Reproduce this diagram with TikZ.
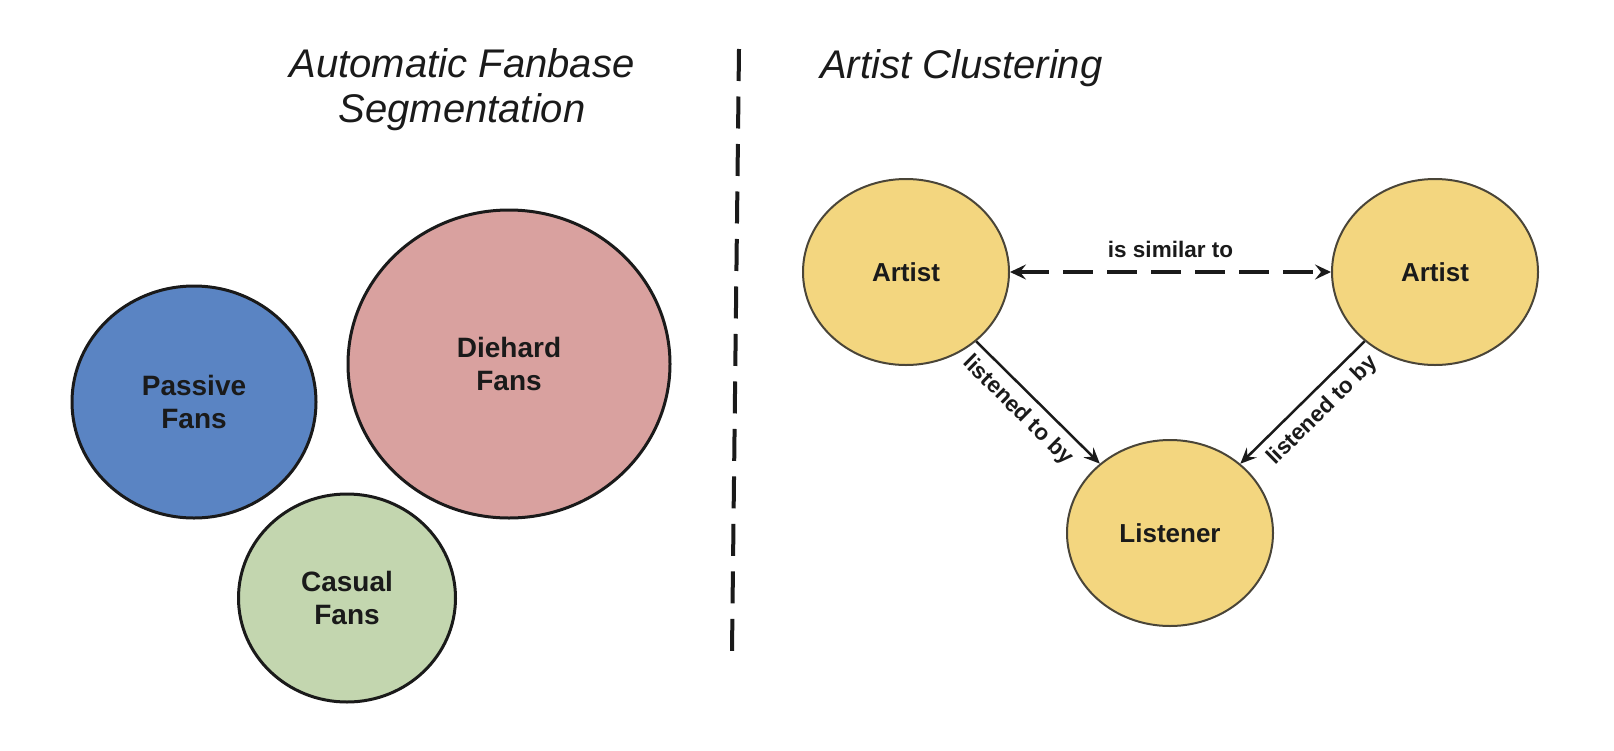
\documentclass[tikz,border=0pt]{standalone}
\usepackage{fontspec}
\setmainfont{Liberation Sans}
\usetikzlibrary{shapes.geometric,arrows.meta}
\definecolor{ink}{HTML}{1A1A1A}
\definecolor{passivefill}{HTML}{5A84C3}
\definecolor{diehardfill}{HTML}{D9A19F}
\definecolor{casualfill}{HTML}{C3D6AF}
\definecolor{artistfill}{HTML}{F3D67F}
\definecolor{artistline}{HTML}{4A4538}
\tikzset{
  fanbubble/.style={ellipse, draw=ink, line width=3pt, inner sep=0pt, text=ink,
    font=\fontsize{28}{33}\selectfont\bfseries, align=center},
  graphnode/.style={ellipse, draw=artistline, line width=2pt, fill=artistfill, inner sep=0pt,
    minimum width=206pt, minimum height=186pt, text=ink, font=\fontsize{26}{30}\selectfont\bfseries},
  titletext/.style={text=ink, font=\fontsize{40}{45}\selectfont\itshape, align=center, inner sep=0pt},
  edgelabel/.style={text=ink, font=\fontsize{22.5}{26}\selectfont\bfseries},
  tiparrow/.style={line width=2.5pt, draw=ink, -{Stealth[length=16pt,width=14pt,inset=6pt]}},
}
\begin{document}
\begin{tikzpicture}[x=1pt,y=-1pt]
\useasboundingbox (0,0) rectangle (1614,750);
% titles
\node[titletext] (t1) at (462,90) {Automatic Fanbase\\Segmentation};
\node[titletext, anchor=west] (t2) at (820,68) {Artist Clustering};
% divider
\coordinate (dtop) at (739,49);
\coordinate (dbot) at (732,651);
\draw[ink, line width=4pt, dash pattern=on 32pt off 15.5pt] (dtop) -- (dbot);
% fan bubbles
\node[fanbubble, fill=passivefill, minimum width=244pt, minimum height=232pt] (passive) at (194,402) {Passive\\Fans};
\node[fanbubble, fill=diehardfill, minimum width=322pt, minimum height=308pt] (diehard) at (509,364) {Diehard\\Fans};
\node[fanbubble, fill=casualfill, minimum width=217pt, minimum height=208pt] (casual) at (347,598) {Casual\\Fans};
% graph
\node[graphnode] (artL) at (906,272) {Artist};
\node[graphnode] (artR) at (1435,272) {Artist};
\node[graphnode] (lis) at (1170,533) {Listener};
\draw[line width=3.5pt, draw=ink, dash pattern=on 30pt off 14pt,
  {Stealth[length=16pt,width=15pt,inset=6pt]}-{Stealth[length=16pt,width=15pt,inset=6pt]}]
  (artL) -- node[edgelabel, above=9pt] {is similar to} (artR);
\draw[tiparrow] (artL) -- node[edgelabel, sloped, below=5pt, pos=0.45] {listened to by} (lis);
\draw[tiparrow] (artR) -- node[edgelabel, sloped, below=5pt, pos=0.45] {listened to by} (lis);
\end{tikzpicture}
\end{document}
